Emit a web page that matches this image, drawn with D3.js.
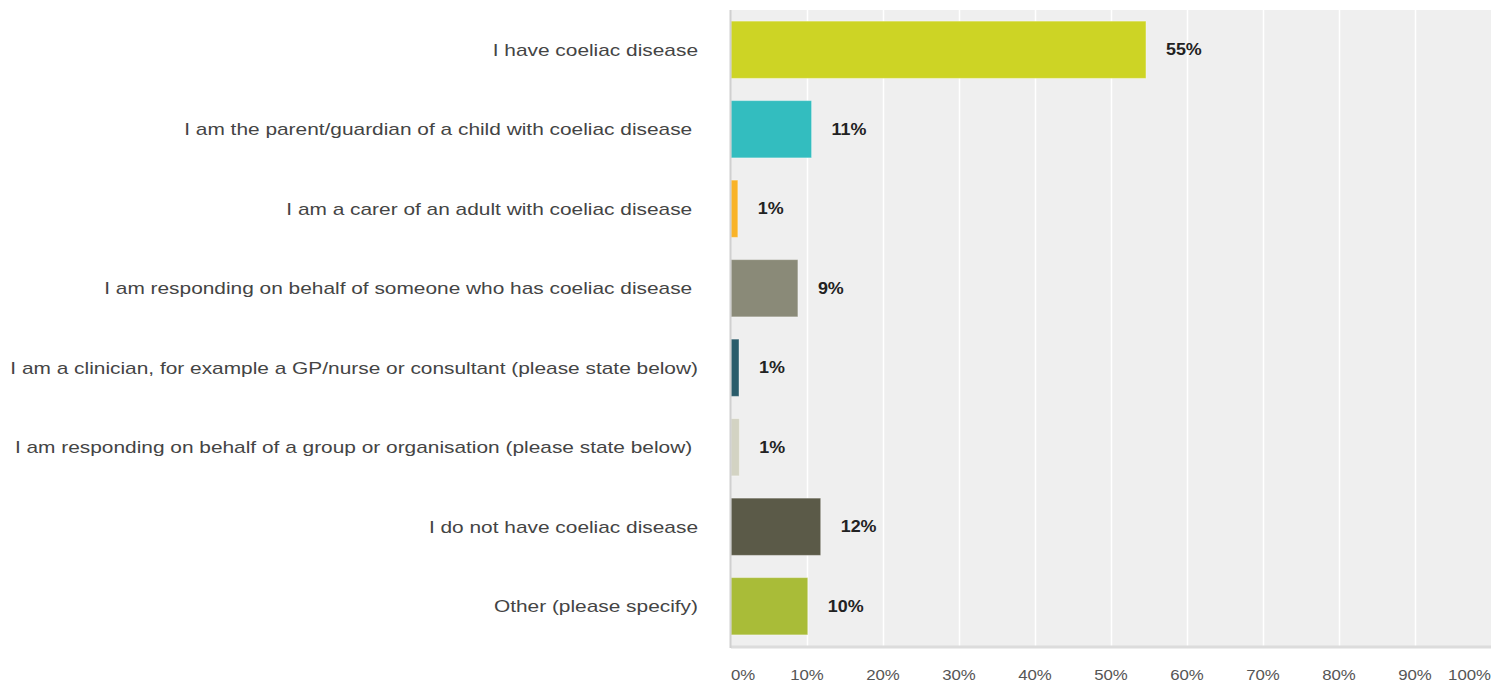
<!DOCTYPE html>
<html>
<head>
<meta charset="utf-8">
<script src="https://cdn.jsdelivr.net/npm/d3@7"></script>
<style>
  body { margin: 0; background: #fff; }
  text { font-family: "Liberation Sans", Arial, sans-serif; white-space: pre; }
</style>
</head>
<body>
<div class="view1"></div>
<script>
// Survey answers, top to bottom
const categories = [
    "I have coeliac disease",
    "I am the parent/guardian of a child with coeliac disease ",
    "I am a carer of an adult with coeliac disease ",
    "I am responding on behalf of someone who has coeliac disease ",
    "I am a clinician, for example a GP/nurse or consultant (please state below)",
    "I am responding on behalf of a group or organisation (please state below) ",
    "I do not have coeliac disease",
    "Other (please specify)"
];
// share of responses
const shares = [0.546, 0.106, 0.009, 0.088, 0.0105, 0.011, 0.118, 0.101];
const barColors = ["#cdd425", "#33bdbf", "#f9b328", "#8a8a78", "#2a5c6a", "#d3d3c3", "#5b5a48", "#a9bc38"];
const tickValues = [0, 0.1, 0.2, 0.3, 0.4, 0.5, 0.6, 0.7, 0.8, 0.9, 1];

//Margins - the bostock way
const margin = {top: 10, right: 3, bottom: 37, left: 731};
const width = 1494 - margin.left - margin.right;
const height = 683 - margin.top - margin.bottom;
const stretch = 1.2; // the source text is a little wide

let svg = d3.select(".view1").append("svg")
    .attr("width", 1494)
    .attr("height", 683);

let g = svg.append("g")
    .attr("transform", "translate(" + margin.left + "," + margin.top + ")");

let x = d3.scaleLinear().domain([0, 1]).range([0, width]);
let y = d3.scaleBand().domain(categories).range([0, height])
    .paddingInner(0.28).paddingOuter(0.14);

// plot background
g.append("rect")
    .attr("width", width)
    .attr("height", height)
    .attr("fill", "#efefef");

// white grid lines
g.append("g")
    .attr("class", "grid")
    .call(d3.axisBottom(x).tickValues(tickValues.slice(1, -1)).tickSize(height).tickFormat(""))
    .call(a => a.select(".domain").remove())
    .call(a => a.selectAll("line").attr("stroke", "#fff").attr("stroke-width", 1.5));

// bars
g.selectAll(".bar")
    .data(shares)
    .enter().append("rect")
    .attr("class", "bar")
    .attr("x", 0)
    .attr("y", (d, i) => y(categories[i]))
    .attr("width", d => x(d))
    .attr("height", y.bandwidth())
    .attr("fill", (d, i) => barColors[i])
    .attr("stroke", "rgba(255,255,255,0.35)")
    .attr("stroke-width", 1);

// value labels
g.selectAll(".val")
    .data(shares)
    .enter().append("text")
    .attr("class", "val")
    .attr("transform", (d, i) => "translate(" + (x(d) + 20) + "," + (y(categories[i]) + y.bandwidth() / 2) + ") scale(1.12,1)")
    .attr("dy", "0.35em")
    .attr("font-size", 16)
    .attr("font-weight", "bold")
    .attr("fill", "#222")
    .text(d => d3.format(".0%")(d));

// axis lines
g.append("line")
    .attr("x1", 0).attr("x2", width)
    .attr("y1", height + 1).attr("y2", height + 1)
    .attr("stroke", "#dcdcdc").attr("stroke-width", 3);
g.append("line")
    .attr("x1", -0.5).attr("x2", -0.5)
    .attr("y1", 0).attr("y2", height + 2)
    .attr("stroke", "#d0d0d0").attr("stroke-width", 2);

// category labels
svg.append("g").selectAll("text")
    .data(categories)
    .enter().append("text")
    .attr("transform", d => "translate(698," + (margin.top + y(d) + y.bandwidth() / 2) + ") scale(" + stretch + ",1)")
    .attr("dy", "0.35em")
    .attr("text-anchor", "end")
    .attr("font-size", 17.4)
    .attr("fill", "#444")
    .text(d => d);

// tick labels
g.append("g").selectAll("text")
    .data(tickValues)
    .enter().append("text")
    .attr("transform", d => "translate(" + x(d) + "," + (height + 29) + ") scale(" + stretch + ",1)")
    .attr("dy", "0.35em")
    .attr("text-anchor", d => d === 0 ? "start" : (d === 1 ? "end" : "middle"))
    .attr("font-size", 14)
    .attr("fill", "#555")
    .text(d => d3.format(".0%")(d));
</script>
</body>
</html>
